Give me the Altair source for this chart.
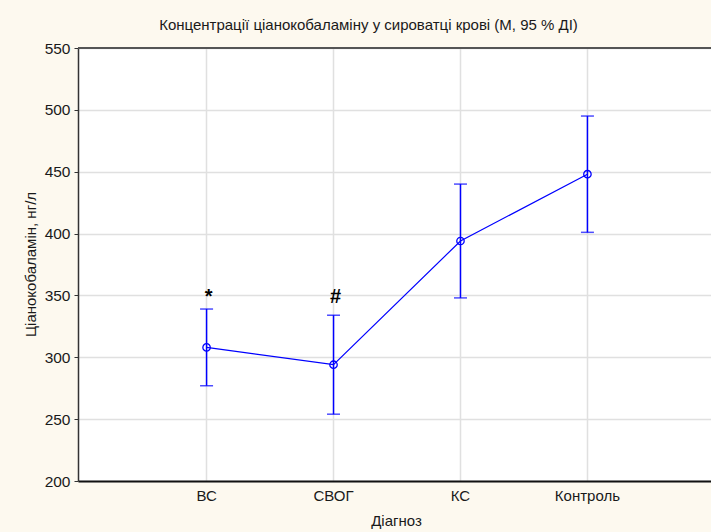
import altair as alt
import pandas as pd

# Serum cyanocobalamin by diagnosis: mean with 95 % CI
categories = ["ВС", "СВОГ", "КС", "Контроль"]
means = [308, 294, 394, 448]
ci_low = [277, 254, 348, 401]
ci_high = [339, 334, 440, 495]
flags = ["*", "#", "", ""]

y_ticks = [200, 250, 300, 350, 400, 450, 500, 550]
y_min, y_max = 200, 550

df = pd.DataFrame({"d": categories, "m": means, "lo": ci_low, "hi": ci_high, "flag": flags})
top_df = pd.DataFrame({"y": [y_max]})

FONT = "Liberation Sans"
BLUE = "#0000ff"
TXT = "#1a1a1a"

x_title = "Діагноз"
y_title = "Ціанокобаламін, нг/л"

x_scale = alt.Scale(domain=categories, padding=0.986, align=0.51)
y_scale = alt.Scale(domain=[y_min, y_max], nice=False, zero=False)

x_axis = alt.Axis(
    ticks=False, grid=True, labelPadding=7, labelFontSize=15, labelColor=TXT, labelFont=FONT,
    labelAngle=0, labelOverlap=False,
    domainColor="#111111", domainWidth=2, gridColor="#e0e0e0", gridWidth=1.5,
    titleFontSize=15, titleFont=FONT, titleColor=TXT, titleFontWeight="normal",
    titleX=318, titleY=39, titleBaseline="middle", titleAlign="center",
)
y_axis = alt.Axis(
    values=y_ticks, tickSize=4, tickColor="#333333", labelPadding=4,
    labelFontSize=15.5, labelColor=TXT, labelFont=FONT,
    domainColor="#333333", domainWidth=1.5, gridColor="#e0e0e0", gridWidth=1.5,
    titleFontSize=15, titleFont=FONT, titleColor=TXT, titleFontWeight="normal",
    titleX=-48, titleY=216, titleBaseline="middle", titleAlign="center", titleAngle=-90,
)


def xenc():
    return alt.X("d:N", sort=categories, scale=x_scale, axis=x_axis, title=x_title)


def yenc(field):
    return alt.Y(f"{field}:Q", scale=y_scale, axis=y_axis, title=y_title)


base = alt.Chart(df)

whisker = base.mark_rule(color=BLUE, strokeWidth=1.5).encode(
    x=xenc(), y=yenc("lo"), y2="hi:Q"
)
cap_lo = base.mark_tick(color=BLUE, size=13, thickness=1.5, orient="horizontal").encode(
    x=xenc(), y=yenc("lo")
)
cap_hi = base.mark_tick(color=BLUE, size=13, thickness=1.5, orient="horizontal").encode(
    x=xenc(), y=yenc("hi")
)
line = base.mark_line(color=BLUE, strokeWidth=1.2).encode(x=xenc(), y=yenc("m"))
pts = base.mark_point(
    shape="circle", filled=False, color=BLUE, size=55, strokeWidth=1.3, opacity=1
).encode(x=xenc(), y=yenc("m"))


def flag_layer(symbol, lift):
    return (
        base.transform_filter(alt.datum.flag == symbol)
        .mark_text(
            fontSize=20, fontWeight="bold", color="#000000", font=FONT,
            baseline="alphabetic", dy=-lift, dx=2,
        )
        .encode(x=xenc(), y=yenc("hi"), text="flag:N")
    )


star = flag_layer("*", 6)
hash_ = flag_layer("#", 12)

top_edge = alt.Chart(top_df).mark_rule(color="#555555", strokeWidth=2).encode(
    y=alt.Y("y:Q", scale=y_scale, axis=y_axis, title=y_title)
)

chart = (
    alt.layer(whisker, cap_lo, cap_hi, line, pts, star, hash_, top_edge)
    .properties(
        width=633,
        height=433,
        title=alt.TitleParams(
            "Концентрації ціанокобаламіну у сироватці крові (M, 95 % ДІ)",
            fontSize=15, font=FONT, color=TXT, fontWeight="normal",
            anchor="middle", dx=-26, offset=8,
        ),
        background="#fdf9ef",
        padding={"left": 78, "top": 48, "right": 0, "bottom": 51},
        autosize=alt.AutoSizeParams(type="none"),
    )
    .configure_view(fill="white", stroke=None)
)

chart.save("out.html", embed_options={"renderer": "svg", "actions": False})
